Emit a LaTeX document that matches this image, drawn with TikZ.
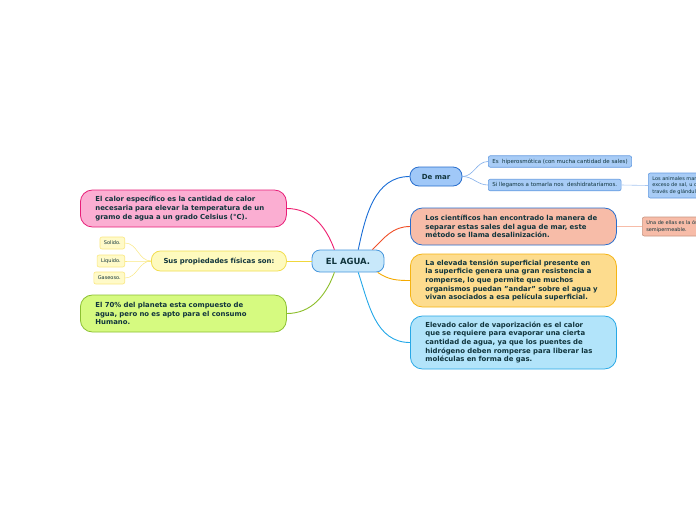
\documentclass[tikz,border=0pt]{standalone}
\usepackage{fontspec}
\setmainfont{DejaVu Sans}
\usetikzlibrary{positioning}
\definecolor{ink}{RGB}{16,52,60}
\definecolor{centerF}{RGB}{200,232,250}
\definecolor{centerD}{RGB}{70,150,220}
\definecolor{marF}{RGB}{160,200,248}
\definecolor{marD}{RGB}{40,110,205}
\definecolor{leafF}{RGB}{168,204,246}
\definecolor{leafD}{RGB}{100,155,225}
\definecolor{salF}{RGB}{247,188,168}
\definecolor{salD}{RGB}{200,150,130}
\definecolor{yelF}{RGB}{253,220,142}
\definecolor{yelD}{RGB}{245,180,20}
\definecolor{skyF}{RGB}{178,228,250}
\definecolor{skyD}{RGB}{40,168,230}
\definecolor{pinkF}{RGB}{251,174,210}
\definecolor{pinkD}{RGB}{232,30,120}
\definecolor{limeF}{RGB}{214,250,128}
\definecolor{limeD}{RGB}{140,192,50}
\definecolor{propF}{RGB}{254,250,190}
\definecolor{propD}{RGB}{242,222,80}
\definecolor{itemF}{RGB}{255,250,200}
\definecolor{itemD}{RGB}{250,232,130}
\definecolor{lnBlue}{RGB}{26,110,215}
\definecolor{lnRed}{RGB}{240,80,40}
\definecolor{lnOr}{RGB}{245,170,0}
\definecolor{lnSky}{RGB}{36,168,232}
\definecolor{lnPink}{RGB}{238,30,112}
\definecolor{lnLime}{RGB}{140,190,40}
\definecolor{lnYel}{RGB}{240,215,60}
\definecolor{lnLeaf}{RGB}{130,175,235}
\tikzset{
  big/.style={draw,line width=0.8pt,rounded corners=12pt,text=ink,align=left,
    inner xsep=15pt,text width=176pt,anchor=west,
    font=\fontsize{6.9}{8.6}\selectfont\bfseries},
  leaf/.style={draw,line width=0.6pt,rounded corners=2pt,text=ink,align=left,
    inner xsep=4pt,inner ysep=1pt,minimum height=11.5pt,anchor=west,
    font=\fontsize{5.5}{6.4}\selectfont},
  item/.style={leaf,fill=itemF,draw=itemD,anchor=east,minimum height=12pt,
    font=\fontsize{5}{6}\selectfont},
  link/.style={line width=0.9pt},
}
\begin{document}
\begin{tikzpicture}[x=1pt,y=-1pt]
  \clip (0,0) rectangle (696,520);
  \fill[white] (0,0) rectangle (696,520);
  % centro
  \node[draw=centerD,fill=centerF,line width=0.8pt,rounded corners=8pt,text=ink,
    minimum width=72pt,minimum height=22pt,font=\fontsize{8.5}{9}\selectfont\bfseries]
    (agua) at (348,261) {EL AGUA.};
  % rama derecha
  \node[draw=marD,fill=marF,line width=0.8pt,rounded corners=9pt,text=ink,
    minimum width=52pt,minimum height=19pt,font=\fontsize{7}{9}\selectfont\bfseries]
    (demar) at (436,176.5) {De mar};
  \node[leaf,fill=leafF,draw=leafD] (hiper) at (488,161.5)
    {Es\ \ hiperosmótica (con mucha cantidad de sales)};
  \node[leaf,fill=leafF,draw=leafD] (tomar) at (488,185)
    {Si llegamos a tomarla nos\ \ deshidrataríamos.};
  \node[leaf,fill=leafF,draw=leafD,minimum height=25pt,font=\fontsize{5}{6.4}\selectfont]
    (animal) at (648,185.5)
    {Los animales marinos eliminan el\\exceso de sal, u otros iones a\\través de glándulas especiales.};
  \node[big,fill=salF,draw=marD,minimum height=37pt] (cient) at (410,226.5)
    {Los científicos han encontrado la manera de\\separar estas sales del agua de mar, este\\método se llama desalinización.};
  \node[leaf,fill=salF,draw=salD,minimum height=19pt,font=\fontsize{5}{6.4}\selectfont]
    (osmo) at (642,226.5) {Una de ellas es la ósmosis inversa con membrana\\semipermeable.};
  \node[big,fill=yelF,draw=yelD,minimum height=53pt] (tension) at (410,280.5)
    {La elevada tensión superficial presente en\\la superficie genera una gran resistencia a\\romperse, lo que permite que muchos\\organismos puedan "andar" sobre el agua y\\vivan asociados a esa película superficial.};
  \node[big,fill=skyF,draw=skyD,minimum height=53pt] (vapor) at (410,342.5)
    {Elevado calor de vaporización es el calor\\que se requiere para evaporar una cierta\\cantidad de agua, ya que los puentes de\\hidrógeno deben romperse para liberar las\\moléculas en forma de gas.};
  % rama izquierda
  \node[big,fill=pinkF,draw=pinkD,minimum height=37pt] (calor) at (80,208.5)
    {El calor específico es la cantidad de calor\\necesaria para elevar la temperatura de un\\gramo de agua a un grado Celsius (°C).};
  \node[draw=propD,fill=propF,line width=0.8pt,rounded corners=9pt,text=ink,anchor=west,
    minimum width=135pt,minimum height=20pt,font=\fontsize{6.9}{8}\selectfont\bfseries]
    (props) at (151,261) {Sus propiedades físicas son:};
  \node[item] (solido) at (125,243) {Solido.};
  \node[item] (liquido) at (125,261) {Liquido.};
  \node[item] (gas) at (125,278) {Gaseoso.};
  \node[big,fill=limeF,draw=limeD,minimum height=37pt] (humano) at (80,313.5)
    {El 70\% del planeta esta compuesto de\\agua, pero no es apto para el consumo\\Humano.};
  % conectores
  \draw[link,lnBlue] (agua.48) to[out=78,in=180] (demar.west);
  \draw[link,lnRed] (agua.25) to[out=45,in=180] (cient.west);
  \draw[link,lnOr] (agua.339) to[out=-35,in=180] (tension.west);
  \draw[link,lnSky] (agua.312) to[out=-72,in=180] (vapor.west);
  \draw[link,lnPink] (agua.140) to[out=110,in=0] (calor.east);
  \draw[link,lnLime] (agua.220) to[out=250,in=0] (humano.east);
  \draw[link,lnYel] (agua.west) -- (props.east);
  \draw[line width=0.6pt,lnLeaf] (demar.east) to[out=0,in=180] (hiper.west);
  \draw[line width=0.6pt,lnLeaf] (demar.east) to[out=0,in=180] (tomar.west);
  \draw[line width=0.6pt,lnLeaf!70] (tomar.east) -- (animal.west);
  \draw[line width=0.6pt,salF] (cient.east) -- (osmo.west);
  \foreach \k in {solido,liquido,gas}
    \draw[line width=0.5pt,itemD] (props.west) to[out=180,in=0] (\k.east);
\end{tikzpicture}
\end{document}
